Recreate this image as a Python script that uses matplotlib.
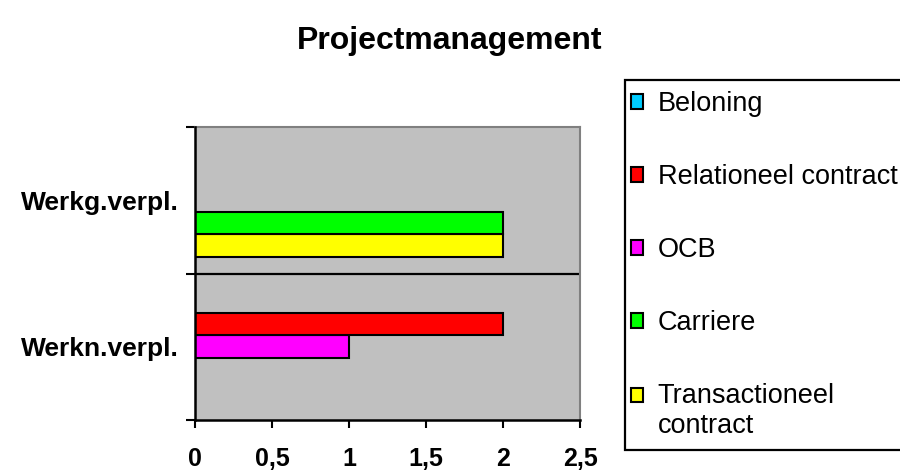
#!/usr/bin/env python

import numpy
import matplotlib
matplotlib.use("Agg")
from matplotlib import pyplot
from matplotlib.patches import Patch, Rectangle
from matplotlib.legend_handler import HandlerPatch
from matplotlib.ticker import FuncFormatter, FixedLocator


# data

categories = ["Werkn.verpl.", "Werkg.verpl."]
series_names = [
    "Transactioneel\ncontract",
    "Carriere",
    "OCB",
    "Relationeel contract",
    "Beloning",
]
transactioneel = [0, 2]
carriere = [0, 2]
ocb = [1, 0]
relationeel = [2, 0]
beloning = [0, 0]

series_values = [transactioneel, carriere, ocb, relationeel, beloning]
colors = ["#FFFF00", "#00FF00", "#FF00FF", "#FF0000", "#00CCFF"]

x_ticks = [0, 0.5, 1, 1.5, 2, 2.5]

# style

pyplot.rcParams["font.family"] = ["Liberation Sans", "DejaVu Sans"]

fig = pyplot.figure(figsize=(9.0, 4.73), dpi=100)
ax = fig.add_axes([195 / 900, 1 - 420 / 473, 385 / 900, 293 / 473])
ax.set_facecolor("#C0C0C0")

# bars, excel style clustered with 150% gap width

ns = len(series_values)
h = 1.0 / (ns + 1.5)
yc = numpy.arange(len(categories))

handles = []
for i, (vals, name, c) in enumerate(zip(series_values, series_names, colors)):
    ax.barh(
        yc + (i - (ns - 1) / 2) * h,
        vals,
        height=h,
        color=c,
        edgecolor="black",
        linewidth=1.5,
        zorder=3,
    )
    handles.append(Patch(facecolor=c, edgecolor="black", linewidth=1.5, label=name))

# category boundaries
bounds = numpy.arange(len(categories) + 1) - 0.5
for b in bounds[1:-1]:
    ax.axhline(b, color="black", lw=1.6, zorder=2)

ax.set_xlim(0, 2.5)
ax.set_ylim(bounds[0], bounds[-1])

ax.set_xticks(x_ticks)
ax.xaxis.set_major_formatter(
    FuncFormatter(lambda v, p: ("%g" % v).replace(".", ","))
)
ax.tick_params(
    axis="x", direction="out", length=5.8, width=1.5, labelsize=18, pad=13.5
)
for t in ax.get_xticklabels():
    t.set_fontweight("bold")

ax.yaxis.set_major_locator(FixedLocator(bounds))
ax.yaxis.set_minor_locator(FixedLocator(yc))
ax.yaxis.set_major_formatter(FuncFormatter(lambda v, p: ""))
ax.set_yticks(yc, categories, minor=True)
ax.tick_params(axis="y", which="major", direction="out", length=6.5, width=1.5)
ax.tick_params(axis="y", which="minor", length=0, labelsize=19, pad=11.5)
for t in ax.get_yticklabels(minor=True):
    t.set_fontweight("bold")

for s in ["left", "bottom"]:
    ax.spines[s].set_color("black")
    ax.spines[s].set_linewidth(1.8)
    ax.spines[s].set_zorder(5)
for s in ["top", "right"]:
    ax.spines[s].set_color("#808080")
    ax.spines[s].set_linewidth(1.5)

fig.text(
    0.5, 1 - 41 / 473, "Projectmanagement",
    ha="center", va="center", fontsize=23, fontweight="bold",
)

LINESP = 1.2


# marker of a two-line entry sits next to its first line
def first_line_patch(legend, orig_handle, xdescent, ydescent, width, height, fontsize):
    nl = orig_handle.get_label().count("\n")
    return Rectangle(
        (-xdescent - 3.6, -ydescent + nl * LINESP * fontsize / 2), width, height
    )


leg = fig.legend(
    handles=handles[::-1],
    handler_map={Patch: HandlerPatch(patch_func=first_line_patch)},
    loc="upper left",
    bbox_to_anchor=(625 / 900, 1 - 80 / 473),
    borderaxespad=0,
    fontsize=19.5,
    frameon=True,
    fancybox=False,
    framealpha=1,
    edgecolor="black",
    handlelength=0.45,
    handleheight=0.45,
    handletextpad=0.35,
    labelspacing=1.735,
    borderpad=0.41,
)
leg.get_frame().set_linewidth(1.6)
for t in leg.get_texts():
    t.set_linespacing(LINESP)

fig.savefig("out.png", dpi=100)
